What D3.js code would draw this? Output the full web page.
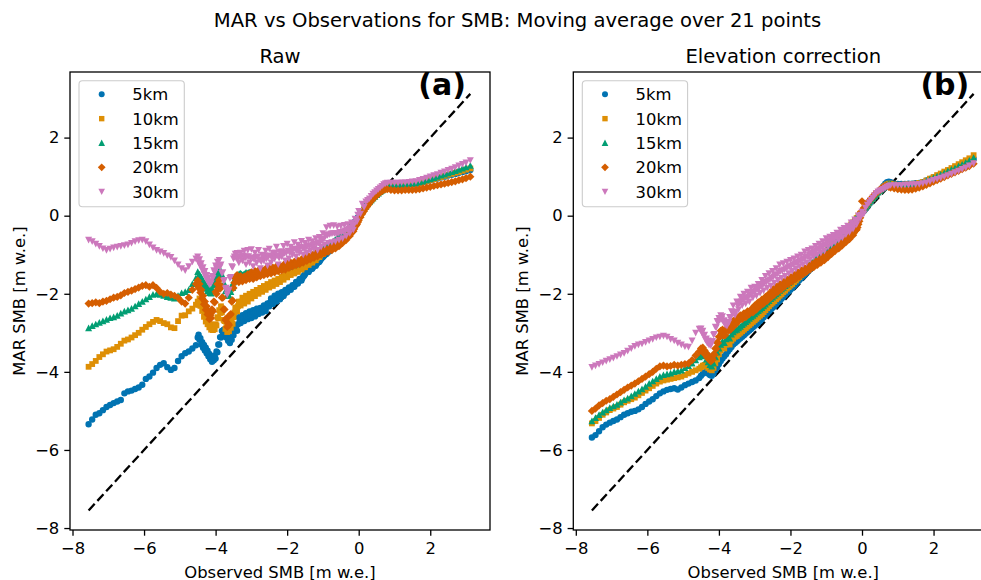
<!DOCTYPE html>
<html><head><meta charset="utf-8">
<script src="https://cdn.jsdelivr.net/npm/d3@7"></script>
<style>
body{margin:0;background:#fff;}
svg{display:block;font-family:"DejaVu Sans",sans-serif;}
</style>
</head><body>
<svg id="c" width="981" height="580"></svg>
<script>
// ---- data ----
const obsSMB = [
-7.55,-7.45,-7.35,-7.25,-7.15,-7.05,-6.95,-6.85,-6.75,-6.65,-6.55,-6.45,-6.35,-6.25,-6.15,-6.05,-5.95,-5.85,-5.75,-5.65,-5.55,-5.45,-5.35,-5.25,-5.15,-5.05,-4.95,-4.85,-4.75,-4.65,-4.55,
-4.50,-4.45,-4.40,-4.35,-4.30,-4.25,-4.20,-4.15,-4.10,-4.05,
-4.00,-3.95,-3.90,-3.85,-3.80,-3.75,-3.70,-3.65,-3.60,-3.55,
-3.50,-3.45,-3.40,-3.35,-3.30,-3.25,-3.20,-3.15,-3.10,-3.05,
-3.00,-2.95,-2.90,-2.85,-2.80,-2.75,-2.70,-2.65,-2.60,-2.55,
-2.50,-2.45,-2.40,-2.35,-2.30,-2.25,-2.20,-2.15,-2.10,-2.05,
-2.00,-1.95,-1.90,-1.85,-1.80,-1.75,-1.70,-1.65,-1.60,-1.55,
-1.50,-1.45,-1.40,-1.35,-1.30,-1.25,-1.20,-1.15,-1.10,-1.05,
-1.00,-0.95,-0.90,-0.85,-0.80,-0.75,-0.70,-0.65,-0.60,-0.55,
-0.50,-0.45,-0.40,-0.35,-0.30,-0.25,-0.20,-0.15,-0.10,-0.05,
0.00,0.05,0.10,0.15,0.20,0.25,0.30,0.35,0.40,0.45,
0.50,0.55,0.60,0.65,0.70,0.75,0.80,
0.9,1.0,1.1,1.2,1.3,1.4,1.5,1.6,1.7,1.8,1.9,2.0,2.1,2.2,2.3,2.4,2.5,2.6,2.7,2.8,2.9,3.0,3.12];

// extra observations in the dense middle of the distribution
const obsSMBdense = [
-4.475,-4.425,-4.375,-4.325,-4.275,-4.225,-4.175,-4.125,-4.075,-4.025,
-3.975,-3.925,-3.875,-3.825,-3.775,-3.725,-3.675,-3.625,-3.575,-3.525,
-3.475,-3.425,-3.375,-3.325,-3.275,-3.225,-3.175,-3.125,-3.075,-3.025,
-2.975,-2.925,-2.875,-2.825,-2.775,-2.725,-2.675,-2.625,-2.575,-2.525,
-2.475,-2.425,-2.375,-2.325,-2.275,-2.225,-2.175,-2.125,-2.075,-2.025,
-1.975,-1.925,-1.875,-1.825,-1.775,-1.725,-1.675,-1.625,-1.575,-1.525,
-1.475,-1.425,-1.375,-1.325,-1.275,-1.225,-1.175,-1.125,-1.075,-1.025,
-0.975,-0.925,-0.875,-0.825,-0.775,-0.725,-0.675,-0.625,-0.575,-0.525,
-0.475,-0.425,-0.375,-0.325,-0.275,-0.225,-0.175,-0.125,-0.075,-0.025];

// Panel (a) Raw
const raw5km = [
-5.34,-5.22,-5.10,-5.06,-4.98,-4.90,-4.85,-4.80,-4.76,-4.72,-4.55,-4.50,-4.48,-4.44,-4.40,-4.33,-4.18,-4.12,-4.02,-3.90,-3.82,-3.78,-3.88,-3.95,-3.90,-3.72,-3.60,-3.52,-3.48,-3.40,-3.32,
-3.12,-3.18,-3.30,-3.38,-3.45,-3.52,-3.60,-3.68,-3.74,-3.70,
-3.66,-3.50,-3.30,-3.12,-2.98,-3.05,-3.12,-3.20,-3.26,-3.18,
-3.06,-2.85,-2.95,-2.60,-2.75,-2.55,-2.70,-2.50,-2.65,-2.45,
-2.62,-2.42,-2.58,-2.38,-2.52,-2.36,-2.48,-2.30,-2.44,-2.25,
-2.32,-2.12,-2.26,-2.05,-2.20,-2.00,-2.14,-1.96,-2.06,-1.90,
-1.96,-1.84,-1.90,-1.78,-1.82,-1.70,-1.74,-1.62,-1.66,-1.55,
-1.50,-1.42,-1.44,-1.36,-1.36,-1.28,-1.28,-1.20,-1.18,-1.10,
-1.06,-1.00,-0.98,-0.92,-0.90,-0.84,-0.80,-0.76,-0.72,-0.65,
-0.60,-0.55,-0.50,-0.45,-0.40,-0.35,-0.30,-0.22,-0.15,-0.08,
-0.02,0.05,0.12,0.18,0.25,0.30,0.36,0.40,0.45,0.50,
0.54,0.58,0.62,0.66,0.72,0.76,0.80,
0.82,0.80,0.79,0.79,0.80,0.80,0.81,0.82,0.84,0.86,0.88,0.91,0.93,0.95,0.98,1.00,1.03,1.05,1.07,1.10,1.12,1.14,1.17];
const raw10km = [
-3.87,-3.80,-3.72,-3.62,-3.55,-3.48,-3.45,-3.42,-3.36,-3.28,-3.20,-3.17,-3.12,-3.06,-3.00,-2.92,-2.85,-2.78,-2.72,-2.67,-2.70,-2.75,-2.78,-2.86,-2.88,-2.70,-2.56,-2.55,-2.45,-2.38,-2.28,
-2.20,-2.12,-2.25,-2.40,-2.55,-2.63,-2.70,-2.78,-2.82,-2.80,
-2.78,-2.60,-2.42,-2.32,-2.40,-2.70,-2.85,-2.88,-2.80,-2.70,
-2.60,-2.35,-2.45,-2.20,-2.30,-2.10,-2.25,-2.05,-2.20,-2.00,
-2.12,-1.95,-2.06,-1.90,-2.00,-1.85,-1.95,-1.80,-1.90,-1.75,
-1.84,-1.70,-1.80,-1.66,-1.75,-1.62,-1.70,-1.56,-1.64,-1.50,
-1.58,-1.46,-1.52,-1.42,-1.48,-1.38,-1.44,-1.33,-1.38,-1.28,
-1.32,-1.22,-1.26,-1.17,-1.20,-1.10,-1.14,-1.04,-1.06,-0.97,
-0.98,-0.90,-0.92,-0.84,-0.86,-0.78,-0.78,-0.70,-0.70,-0.62,
-0.62,-0.54,-0.54,-0.46,-0.46,-0.36,-0.36,-0.24,-0.22,-0.10,
-0.08,0.02,0.08,0.16,0.22,0.28,0.34,0.40,0.44,0.50,
0.54,0.58,0.62,0.66,0.70,0.74,0.77,
0.78,0.78,0.78,0.79,0.79,0.80,0.81,0.82,0.84,0.87,0.89,0.92,0.94,0.97,0.99,1.02,1.05,1.07,1.10,1.12,1.15,1.18,1.21];
const raw15km = [
-2.88,-2.82,-2.78,-2.74,-2.70,-2.66,-2.62,-2.60,-2.56,-2.50,-2.45,-2.42,-2.38,-2.32,-2.26,-2.20,-2.14,-2.08,-2.02,-2.00,-2.02,-2.05,-2.08,-2.10,-2.12,-2.05,-1.98,-1.95,-1.90,-1.75,-1.60,
-1.44,-1.50,-1.58,-1.66,-1.74,-1.80,-1.86,-1.90,-1.88,-1.75,
-1.60,-1.48,-1.40,-1.42,-1.55,-1.75,-1.90,-2.00,-1.90,-1.80,
-1.70,-1.60,-1.55,-1.50,-1.48,-1.52,-1.50,-1.46,-1.48,-1.45,
-1.45,-1.48,-1.42,-1.46,-1.40,-1.44,-1.40,-1.42,-1.38,-1.40,
-1.38,-1.40,-1.36,-1.38,-1.34,-1.36,-1.33,-1.35,-1.32,-1.34,
-1.32,-1.30,-1.28,-1.26,-1.25,-1.23,-1.21,-1.19,-1.17,-1.15,
-1.12,-1.10,-1.07,-1.04,-1.02,-0.99,-0.96,-0.93,-0.90,-0.87,
-0.85,-0.82,-0.79,-0.76,-0.73,-0.70,-0.66,-0.62,-0.58,-0.54,
-0.50,-0.46,-0.42,-0.38,-0.34,-0.29,-0.23,-0.17,-0.11,-0.05,
0.00,0.06,0.12,0.18,0.24,0.30,0.35,0.40,0.45,0.49,
0.53,0.57,0.61,0.65,0.69,0.72,0.75,
0.79,0.79,0.79,0.80,0.80,0.81,0.82,0.83,0.86,0.88,0.91,0.94,0.97,1.00,1.03,1.06,1.09,1.12,1.15,1.18,1.21,1.24,1.28];
const raw20km = [
-2.25,-2.24,-2.22,-2.24,-2.20,-2.18,-2.14,-2.10,-2.08,-2.04,-1.98,-1.95,-1.92,-1.88,-1.84,-1.80,-1.78,-1.82,-1.78,-1.85,-1.95,-2.00,-1.98,-2.02,-2.05,-2.10,-2.20,-2.25,-2.10,-1.90,-1.75,
-1.66,-1.75,-1.90,-2.05,-2.20,-2.32,-2.45,-2.55,-2.40,-2.20,
-1.95,-1.75,-1.65,-1.80,-2.10,-2.40,-2.63,-2.76,-2.55,-2.20,
-1.85,-1.60,-1.52,-1.70,-1.55,-1.68,-1.56,-1.65,-1.50,-1.62,
-1.45,-1.62,-1.42,-1.58,-1.40,-1.55,-1.38,-1.52,-1.36,-1.50,
-1.35,-1.48,-1.33,-1.45,-1.30,-1.42,-1.28,-1.40,-1.26,-1.38,
-1.22,-1.34,-1.20,-1.30,-1.18,-1.27,-1.15,-1.24,-1.12,-1.20,
-1.08,-1.16,-1.04,-1.12,-1.00,-1.08,-0.96,-1.04,-0.92,-1.00,
-0.90,-0.96,-0.86,-0.92,-0.82,-0.88,-0.78,-0.84,-0.72,-0.78,
-0.66,-0.70,-0.58,-0.62,-0.50,-0.52,-0.40,-0.40,-0.28,-0.22,
-0.12,-0.04,0.05,0.12,0.20,0.26,0.32,0.38,0.43,0.48,
0.52,0.56,0.60,0.63,0.66,0.68,0.68,
0.66,0.65,0.65,0.65,0.66,0.66,0.66,0.67,0.68,0.70,0.72,0.74,0.76,0.78,0.80,0.82,0.84,0.86,0.88,0.91,0.93,0.96,1.00];
const raw30km = [
-0.62,-0.66,-0.72,-0.78,-0.84,-0.88,-0.85,-0.82,-0.80,-0.78,-0.76,-0.74,-0.70,-0.66,-0.63,-0.62,-0.66,-0.74,-0.82,-0.88,-0.92,-0.96,-1.02,-1.06,-1.15,-1.25,-1.35,-1.40,-1.30,-1.18,-1.10,
-1.05,-1.12,-1.22,-1.32,-1.42,-1.52,-1.60,-1.68,-1.55,-1.40,
-1.28,-1.18,-1.14,-1.25,-1.45,-1.65,-1.85,-1.95,-1.60,-1.30,
-1.10,-0.98,-0.96,-1.20,-0.95,-1.15,-0.90,-1.25,-0.88,-1.20,
-0.86,-1.30,-0.95,-1.20,-0.88,-1.35,-1.00,-1.15,-0.90,-1.28,
-0.85,-1.20,-0.95,-1.10,-0.80,-1.25,-0.92,-1.05,-0.78,-1.15,
-0.72,-1.10,-0.80,-1.00,-0.68,-1.05,-0.75,-0.95,-0.65,-1.00,
-0.70,-0.95,-0.62,-0.90,-0.66,-0.85,-0.58,-0.88,-0.55,-0.80,
-0.45,-0.75,-0.30,-0.70,-0.26,-0.68,-0.25,-0.66,-0.28,-0.62,
-0.26,-0.58,-0.24,-0.52,-0.22,-0.45,-0.18,-0.36,-0.08,-0.15,
0.12,0.05,0.30,0.22,0.36,0.40,0.44,0.50,0.56,0.60,
0.64,0.68,0.72,0.76,0.80,0.83,0.84,
0.84,0.84,0.84,0.85,0.85,0.86,0.87,0.88,0.91,0.94,0.97,1.00,1.03,1.06,1.10,1.13,1.17,1.20,1.24,1.28,1.32,1.36,1.42];

const raw5kmDense = [
-3.05,-3.14,-3.24,-3.31,-3.38,-3.46,-3.54,-3.61,-3.62,-3.58,
-3.48,-3.30,-3.11,-2.95,-2.92,-2.98,-3.06,-3.13,-3.12,-3.02,
-2.95,-2.90,-2.78,-2.68,-2.65,-2.62,-2.60,-2.58,-2.55,-2.52,
-2.52,-2.50,-2.48,-2.45,-2.44,-2.42,-2.39,-2.37,-2.34,-2.30,
-2.22,-2.19,-2.16,-2.12,-2.10,-2.07,-2.05,-2.02,-1.98,-1.94,
-1.90,-1.87,-1.84,-1.80,-1.76,-1.72,-1.68,-1.64,-1.60,-1.54,
-1.46,-1.43,-1.40,-1.36,-1.32,-1.28,-1.24,-1.19,-1.14,-1.08,
-1.03,-0.99,-0.95,-0.91,-0.87,-0.82,-0.78,-0.74,-0.68,-0.62,
-0.58,-0.52,-0.48,-0.42,-0.38,-0.32,-0.26,-0.18,-0.12,-0.05];
const raw10kmDense = [
-2.28,-2.31,-2.44,-2.59,-2.71,-2.78,-2.86,-2.92,-2.93,-2.91,
-2.81,-2.63,-2.49,-2.48,-2.67,-2.90,-2.98,-2.96,-2.87,-2.77,
-2.48,-2.40,-2.32,-2.25,-2.20,-2.18,-2.15,-2.12,-2.10,-2.06,
-2.04,-2.00,-1.98,-1.95,-1.92,-1.90,-1.88,-1.85,-1.82,-1.79,
-1.77,-1.75,-1.72,-1.70,-1.68,-1.65,-1.63,-1.60,-1.57,-1.54,
-1.52,-1.49,-1.47,-1.45,-1.43,-1.41,-1.38,-1.35,-1.33,-1.30,
-1.27,-1.24,-1.21,-1.18,-1.15,-1.12,-1.09,-1.05,-1.02,-0.98,
-0.94,-0.91,-0.88,-0.85,-0.82,-0.78,-0.74,-0.70,-0.66,-0.62,
-0.58,-0.54,-0.50,-0.45,-0.41,-0.36,-0.30,-0.24,-0.16,-0.09];
const raw15kmDense = [
-1.57,-1.64,-1.72,-1.80,-1.87,-1.93,-1.98,-1.99,-1.92,-1.78,
-1.64,-1.54,-1.51,-1.59,-1.75,-1.93,-2.05,-2.05,-1.95,-1.85,
-1.65,-1.57,-1.52,-1.49,-1.50,-1.51,-1.48,-1.47,-1.46,-1.45,
-1.46,-1.45,-1.44,-1.43,-1.42,-1.42,-1.41,-1.40,-1.39,-1.39,
-1.39,-1.38,-1.37,-1.36,-1.35,-1.35,-1.34,-1.34,-1.33,-1.33,
-1.31,-1.29,-1.27,-1.26,-1.24,-1.22,-1.20,-1.18,-1.16,-1.14,
-1.11,-1.08,-1.06,-1.03,-1.00,-0.97,-0.94,-0.92,-0.88,-0.86,
-0.84,-0.80,-0.78,-0.74,-0.72,-0.68,-0.64,-0.60,-0.56,-0.52,
-0.48,-0.44,-0.40,-0.36,-0.32,-0.26,-0.20,-0.14,-0.08,-0.02];
const raw20kmDense = [
-1.85,-1.97,-2.12,-2.27,-2.41,-2.53,-2.65,-2.62,-2.45,-2.22,
-2.00,-1.85,-1.87,-2.10,-2.40,-2.67,-2.85,-2.80,-2.52,-2.17,
-1.72,-1.56,-1.62,-1.62,-1.62,-1.62,-1.60,-1.58,-1.56,-1.54,
-1.54,-1.52,-1.50,-1.49,-1.48,-1.46,-1.45,-1.44,-1.43,-1.42,
-1.42,-1.40,-1.39,-1.38,-1.36,-1.35,-1.34,-1.33,-1.32,-1.30,
-1.28,-1.27,-1.25,-1.24,-1.22,-1.21,-1.20,-1.18,-1.16,-1.14,
-1.12,-1.10,-1.08,-1.06,-1.04,-1.02,-1.00,-0.98,-0.96,-0.95,
-0.93,-0.91,-0.89,-0.87,-0.85,-0.83,-0.81,-0.78,-0.75,-0.72,
-0.68,-0.64,-0.60,-0.56,-0.51,-0.46,-0.40,-0.34,-0.25,-0.17];
const raw30kmDense = [
-1.20,-1.29,-1.39,-1.49,-1.59,-1.68,-1.76,-1.73,-1.60,-1.46,
-1.35,-1.28,-1.31,-1.47,-1.67,-1.87,-2.02,-1.90,-1.57,-1.32,
-1.05,-1.08,-1.10,-1.05,-1.05,-1.02,-1.08,-1.05,-1.04,-1.08,
-1.08,-1.12,-1.06,-1.05,-1.12,-1.18,-1.06,-1.02,-1.10,-1.05,
-1.02,-1.08,-1.02,-0.95,-1.02,-1.08,-0.98,-0.92,-0.96,-0.95,
-0.90,-0.95,-0.90,-0.85,-0.86,-0.90,-0.84,-0.80,-0.82,-0.85,
-0.82,-0.78,-0.76,-0.78,-0.75,-0.72,-0.72,-0.70,-0.68,-0.62,
-0.60,-0.52,-0.50,-0.48,-0.46,-0.45,-0.45,-0.46,-0.45,-0.42,
-0.42,-0.40,-0.38,-0.36,-0.34,-0.32,-0.26,-0.22,-0.12,0.02];

// Panel (b) Elevation correction
const corr5km = [
-5.68,-5.62,-5.52,-5.42,-5.35,-5.30,-5.26,-5.22,-5.16,-5.10,-5.06,-5.02,-5.00,-4.96,-4.90,-4.82,-4.76,-4.70,-4.62,-4.55,-4.50,-4.46,-4.44,-4.42,-4.45,-4.40,-4.34,-4.30,-4.26,-4.22,-4.16,
-4.10,-4.05,-4.02,-4.00,-4.04,-4.08,-4.10,-4.04,-3.96,-3.88,
-3.80,-3.72,-3.66,-3.60,-3.55,-3.48,-3.42,-3.36,-3.30,-3.26,
-3.22,-3.18,-3.14,-3.10,-3.06,-3.02,-2.98,-2.94,-2.90,-2.86,
-2.82,-2.78,-2.74,-2.70,-2.65,-2.60,-2.55,-2.50,-2.45,-2.40,
-2.36,-2.32,-2.27,-2.22,-2.18,-2.13,-2.08,-2.03,-1.98,-1.94,
-1.90,-1.85,-1.80,-1.75,-1.70,-1.65,-1.60,-1.56,-1.51,-1.46,
-1.42,-1.37,-1.32,-1.28,-1.23,-1.18,-1.13,-1.08,-1.03,-0.98,
-0.94,-0.89,-0.84,-0.79,-0.74,-0.69,-0.64,-0.59,-0.54,-0.49,
-0.44,-0.39,-0.34,-0.29,-0.24,-0.19,-0.14,-0.09,-0.03,0.02,
0.07,0.12,0.18,0.24,0.30,0.36,0.42,0.48,0.54,0.59,
0.64,0.70,0.76,0.82,0.86,0.87,0.86,
0.82,0.81,0.81,0.81,0.82,0.82,0.83,0.84,0.86,0.90,0.94,0.98,1.02,1.06,1.10,1.15,1.19,1.24,1.28,1.33,1.37,1.41,1.46];
const corr10km = [
-5.32,-5.26,-5.18,-5.10,-5.04,-4.98,-4.94,-4.90,-4.84,-4.78,-4.74,-4.70,-4.66,-4.60,-4.54,-4.48,-4.42,-4.36,-4.30,-4.25,-4.22,-4.20,-4.18,-4.16,-4.14,-4.12,-4.08,-4.04,-4.00,-3.96,-3.92,
-3.88,-3.84,-3.82,-3.86,-3.90,-3.94,-3.96,-3.90,-3.78,-3.68,
-3.55,-3.45,-3.38,-3.40,-3.30,-3.26,-3.30,-3.20,-3.15,-3.10,
-3.08,-3.04,-3.00,-2.96,-2.92,-2.88,-2.84,-2.80,-2.76,-2.72,
-2.68,-2.64,-2.60,-2.56,-2.52,-2.47,-2.42,-2.37,-2.32,-2.27,
-2.23,-2.19,-2.14,-2.10,-2.05,-2.01,-1.96,-1.92,-1.87,-1.83,
-1.79,-1.75,-1.70,-1.66,-1.61,-1.57,-1.52,-1.48,-1.44,-1.39,
-1.35,-1.31,-1.26,-1.22,-1.17,-1.13,-1.08,-1.04,-0.99,-0.95,
-0.90,-0.86,-0.81,-0.76,-0.72,-0.67,-0.62,-0.57,-0.52,-0.47,
-0.42,-0.37,-0.32,-0.27,-0.22,-0.17,-0.12,-0.06,0.00,0.05,
0.10,0.15,0.21,0.27,0.33,0.39,0.44,0.50,0.55,0.60,
0.64,0.69,0.73,0.77,0.80,0.82,0.82,
0.80,0.79,0.79,0.80,0.80,0.81,0.82,0.84,0.86,0.90,0.95,0.99,1.04,1.08,1.13,1.17,1.22,1.27,1.32,1.37,1.42,1.47,1.55];
const corr15km = [
-5.26,-5.18,-5.10,-5.04,-4.98,-4.92,-4.88,-4.84,-4.78,-4.72,-4.68,-4.62,-4.56,-4.50,-4.44,-4.38,-4.30,-4.24,-4.18,-4.12,-4.08,-4.06,-4.04,-4.00,-3.98,-3.96,-3.90,-3.85,-3.78,-3.70,-3.62,
-3.58,-3.55,-3.60,-3.68,-3.75,-3.82,-3.86,-3.78,-3.62,-3.50,
-3.40,-3.30,-3.22,-3.26,-3.16,-3.10,-3.14,-3.04,-2.98,-2.94,
-2.92,-2.88,-2.84,-2.80,-2.76,-2.72,-2.68,-2.64,-2.60,-2.56,
-2.52,-2.48,-2.44,-2.40,-2.36,-2.32,-2.27,-2.22,-2.18,-2.13,
-2.09,-2.05,-2.01,-1.97,-1.92,-1.88,-1.84,-1.80,-1.76,-1.72,
-1.68,-1.64,-1.60,-1.56,-1.52,-1.48,-1.44,-1.40,-1.36,-1.32,
-1.28,-1.24,-1.20,-1.16,-1.12,-1.08,-1.04,-1.00,-0.96,-0.92,
-0.88,-0.84,-0.79,-0.75,-0.70,-0.65,-0.60,-0.55,-0.50,-0.45,
-0.40,-0.35,-0.30,-0.25,-0.20,-0.15,-0.10,-0.04,0.02,0.07,
0.12,0.17,0.22,0.28,0.34,0.40,0.45,0.50,0.55,0.60,
0.64,0.68,0.72,0.76,0.79,0.81,0.81,
0.79,0.78,0.78,0.79,0.79,0.80,0.81,0.83,0.85,0.89,0.93,0.97,1.01,1.05,1.09,1.14,1.18,1.22,1.27,1.31,1.36,1.41,1.48];
const corr20km = [
-5.00,-4.94,-4.86,-4.80,-4.74,-4.70,-4.64,-4.58,-4.52,-4.46,-4.40,-4.35,-4.30,-4.24,-4.18,-4.12,-4.06,-4.00,-3.92,-3.86,-3.84,-3.86,-3.85,-3.82,-3.84,-3.82,-3.80,-3.78,-3.70,-3.58,-3.48,
-3.40,-3.38,-3.45,-3.52,-3.58,-3.64,-3.66,-3.55,-3.40,-3.25,
-3.10,-2.95,-2.92,-3.05,-2.90,-2.80,-2.92,-2.75,-2.70,-2.78,
-2.62,-2.70,-2.55,-2.65,-2.50,-2.60,-2.45,-2.52,-2.40,-2.48,
-2.30,-2.40,-2.22,-2.32,-2.15,-2.25,-2.08,-2.18,-2.00,-2.10,
-1.90,-2.02,-1.82,-1.95,-1.76,-1.88,-1.70,-1.80,-1.64,-1.74,
-1.58,-1.68,-1.52,-1.62,-1.46,-1.56,-1.40,-1.50,-1.35,-1.44,
-1.30,-1.38,-1.24,-1.32,-1.18,-1.26,-1.12,-1.20,-1.06,-1.14,
-1.00,-1.06,-0.94,-0.98,-0.88,-0.90,-0.80,-0.84,-0.72,-0.76,
-0.66,-0.68,-0.58,-0.60,-0.48,-0.50,-0.38,-0.36,-0.22,-0.05,
0.37,0.20,0.26,0.32,0.38,0.44,0.48,0.54,0.58,0.62,
0.66,0.70,0.74,0.76,0.76,0.74,0.72,
0.70,0.68,0.67,0.66,0.66,0.67,0.69,0.72,0.75,0.79,0.83,0.87,0.91,0.95,0.99,1.03,1.07,1.11,1.15,1.19,1.23,1.27,1.33];
const corr30km = [
-3.88,-3.84,-3.80,-3.76,-3.72,-3.68,-3.64,-3.60,-3.56,-3.52,-3.46,-3.40,-3.34,-3.30,-3.28,-3.24,-3.20,-3.16,-3.12,-3.10,-3.08,-3.10,-3.16,-3.20,-3.26,-3.30,-3.35,-3.36,-3.20,-3.00,-2.90,
-2.89,-2.95,-3.05,-3.15,-3.20,-3.26,-3.22,-3.05,-2.85,-2.70,
-2.62,-2.55,-2.58,-2.68,-2.75,-2.72,-2.60,-2.45,-2.30,-2.55,
-2.20,-2.40,-2.08,-2.30,-2.00,-2.25,-1.95,-2.20,-1.85,-2.10,
-1.82,-2.05,-1.75,-1.98,-1.65,-1.92,-1.55,-1.85,-1.48,-1.80,
-1.42,-1.72,-1.35,-1.65,-1.25,-1.60,-1.22,-1.55,-1.18,-1.48,
-1.14,-1.42,-1.10,-1.36,-1.05,-1.30,-1.00,-1.25,-0.92,-1.20,
-0.88,-1.12,-0.84,-1.05,-0.78,-1.00,-0.72,-0.95,-0.66,-0.90,
-0.58,-0.80,-0.54,-0.74,-0.50,-0.68,-0.44,-0.62,-0.36,-0.56,
-0.32,-0.48,-0.26,-0.42,-0.18,-0.34,-0.10,-0.22,0.00,-0.06,
0.10,0.05,0.20,0.28,0.34,0.40,0.46,0.52,0.58,0.62,
0.64,0.66,0.68,0.71,0.74,0.76,0.78,
0.78,0.78,0.78,0.79,0.79,0.80,0.80,0.81,0.83,0.85,0.88,0.91,0.94,0.97,1.00,1.03,1.07,1.11,1.15,1.19,1.23,1.28,1.34];

const corr20kmDense = [
-3.47,-3.50,-3.57,-3.63,-3.69,-3.73,-3.69,-3.56,-3.41,-3.26,
-3.11,-3.02,-3.07,-3.06,-2.93,-2.94,-2.92,-2.81,-2.82,-2.78,
-2.66,-2.62,-2.60,-2.58,-2.55,-2.52,-2.48,-2.46,-2.44,-2.38,
-2.35,-2.31,-2.27,-2.24,-2.20,-2.16,-2.13,-2.09,-2.05,-2.00,
-1.96,-1.92,-1.88,-1.85,-1.82,-1.79,-1.75,-1.72,-1.69,-1.66,
-1.63,-1.60,-1.57,-1.54,-1.51,-1.48,-1.45,-1.42,-1.40,-1.37,
-1.34,-1.31,-1.28,-1.25,-1.22,-1.19,-1.16,-1.13,-1.10,-1.07,
-1.03,-1.00,-0.96,-0.93,-0.89,-0.86,-0.82,-0.78,-0.74,-0.70,
-0.67,-0.62,-0.59,-0.54,-0.49,-0.44,-0.37,-0.30,-0.14,0.10];
const corr30kmDense = [
-3.00,-3.08,-3.18,-3.26,-3.31,-3.32,-3.22,-3.03,-2.86,-2.74,
-2.67,-2.65,-2.71,-2.80,-2.82,-2.74,-2.61,-2.46,-2.51,-2.46,
-2.30,-2.24,-2.20,-2.15,-2.12,-2.10,-2.08,-2.02,-1.98,-1.95,
-1.92,-1.88,-1.85,-1.80,-1.78,-1.72,-1.70,-1.66,-1.64,-1.60,
-1.56,-1.52,-1.50,-1.45,-1.42,-1.40,-1.38,-1.35,-1.32,-1.30,
-1.28,-1.25,-1.22,-1.20,-1.18,-1.15,-1.12,-1.10,-1.06,-1.04,
-1.00,-0.98,-0.95,-0.92,-0.89,-0.86,-0.84,-0.80,-0.78,-0.74,
-0.70,-0.66,-0.64,-0.60,-0.58,-0.55,-0.53,-0.49,-0.46,-0.42,
-0.40,-0.36,-0.34,-0.30,-0.26,-0.22,-0.16,-0.11,-0.05,0.02];

const resolutions = ["5km","10km","15km","20km","30km"];
const colors = ["#0173b2","#de8f05","#029e73","#d55e00","#cc78bc"];
const tickValues = [-8,-6,-4,-2,0,2];
const xLimits = [-8.07, 3.67];
const yLimits = [-8.05, 3.68];
const panelTitles = ["Raw","Elevation correction"];
const panelTags = ["(a)","(b)"];
const panelSeries = [
  [raw5km, raw10km, raw15km, raw20km, raw30km],
  [corr5km, corr10km, corr15km, corr20km, corr30km]
];
const panelDense = [
  [raw5kmDense, raw10kmDense, raw15kmDense, raw20kmDense, raw30kmDense],
  [null, null, null, corr20kmDense, corr30kmDense]
];
const suptitle = "MAR vs Observations for SMB: Moving average over 21 points";
const xLabel = "Observed SMB [m w.e.]";
const yLabel = "MAR SMB [m w.e.]";

// ---- layout ----
const svg = d3.select("#c");
const W = 981, H = 580;
const axTop = 72, axBottom = 530, axW = 420;
const axLefts = [70, 573.3];
const FS = 16.4, TFS = 19.6;

// marker shapes (matplotlib-like)
const markerPaths = [
  d3.symbol(d3.symbolCircle, 32)(),
  "M-2.9,-2.9h5.8v5.8h-5.8Z",
  "M0,-3.6L3.5,3.1L-3.5,3.1Z",
  "M0,-4.1L4.1,0L0,4.1L-4.1,0Z",
  "M0,3.6L3.5,-3.1L-3.5,-3.1Z"
];
const legendPaths = [
  d3.symbol(d3.symbolCircle, 28)(),
  "M-2.7,-2.7h5.4v5.4h-5.4Z",
  "M0,-3.4L3.3,3.0L-3.3,3.0Z",
  "M0,-3.9L3.9,0L0,3.9L-3.9,0Z",
  "M0,3.4L3.3,-3.0L-3.3,-3.0Z"
];

const fmt = d => d < 0 ? "\u2212" + Math.abs(d) : String(d);

svg.append("rect").attr("width", W).attr("height", H).attr("fill", "#fff");

svg.append("text").attr("x", 517.5).attr("y", 26.5)
  .attr("text-anchor", "middle").attr("font-size", TFS).attr("fill", "#000")
  .text(suptitle);

panelSeries.forEach((seriesList, p) => {
  const left = axLefts[p];
  const x = d3.scaleLinear().domain(xLimits).range([left, left + axW]);
  const y = d3.scaleLinear().domain(yLimits).range([axBottom, axTop]);
  const g = svg.append("g");

  // 1:1 dashed line
  const n = obsSMB.length;
  const lo = obsSMB[0], hi = obsSMB[n - 1];
  g.append("path")
    .attr("d", d3.line().x(d => x(d)).y(d => y(d))([lo, hi]))
    .attr("stroke", "#000").attr("stroke-width", 2.3)
    .attr("stroke-dasharray", "9,4").attr("fill", "none");

  // scatter series
  seriesList.forEach((vals, s) => {
    const m = Math.min(vals.length, n);
    let pts = d3.range(m).map(i => [obsSMB[i], vals[i]]);
    const extra = panelDense[p][s];
    if (extra) {
      const m2 = Math.min(extra.length, obsSMBdense.length);
      pts = pts.concat(d3.range(m2).map(i => [obsSMBdense[i], extra[i]]));
    }
    g.append("g").selectAll("path").data(pts).join("path")
      .attr("d", markerPaths[s])
      .attr("transform", d => `translate(${x(d[0])},${y(d[1])})`)
      .attr("fill", colors[s]);
  });

  // axes
  const xa = g.append("g").attr("transform", `translate(0,${axBottom})`)
    .call(d3.axisBottom(x).tickValues(tickValues).tickFormat(fmt).tickSize(5.7).tickPadding(6.5));
  const ya = g.append("g").attr("transform", `translate(${left},0)`)
    .call(d3.axisLeft(y).tickValues(tickValues).tickFormat(fmt).tickSize(5.7).tickPadding(5));
  [xa, ya].forEach(a => {
    a.select(".domain").remove();
    a.selectAll(".tick line").attr("stroke", "#000").attr("stroke-width", 1.3);
    a.selectAll(".tick text").attr("font-size", FS).attr("font-family", "DejaVu Sans").attr("fill", "#000");
  });

  // frame
  g.append("rect").attr("x", left).attr("y", axTop)
    .attr("width", axW).attr("height", axBottom - axTop)
    .attr("fill", "none").attr("stroke", "#000").attr("stroke-width", 1.3);

  // title
  g.append("text").attr("x", left + axW / 2).attr("y", 63)
    .attr("text-anchor", "middle").attr("font-size", TFS).text(panelTitles[p]);

  // panel tag
  g.append("text").attr("x", left + axW - 24).attr("y", 94.5)
    .attr("text-anchor", "end").attr("font-size", 30).attr("font-weight", "bold")
    .text(panelTags[p]);

  // axis labels
  g.append("text").attr("x", left + axW / 2).attr("y", 577.5)
    .attr("text-anchor", "middle").attr("font-size", FS).text(xLabel);
  g.append("text").attr("transform", `translate(${left - 45},${(axTop + axBottom) / 2}) rotate(-90)`)
    .attr("text-anchor", "middle").attr("font-size", FS).text(yLabel);

  // legend
  const lg = g.append("g");
  lg.append("rect").attr("x", left + 9).attr("y", 80.7)
    .attr("width", 105.3).attr("height", 126).attr("rx", 3.5)
    .attr("fill", "#fff").attr("fill-opacity", 0.8)
    .attr("stroke", "#cccccc").attr("stroke-width", 1.1);
  resolutions.forEach((name, i) => {
    const cy = 94.3 + i * 24.35;
    lg.append("path").attr("d", legendPaths[i])
      .attr("transform", `translate(${left + 31.7},${cy})`).attr("fill", colors[i]);
    lg.append("text").attr("x", left + 62.3).attr("y", cy + 5.9)
      .attr("font-size", FS).text(name);
  });
});
</script>
</body></html>
